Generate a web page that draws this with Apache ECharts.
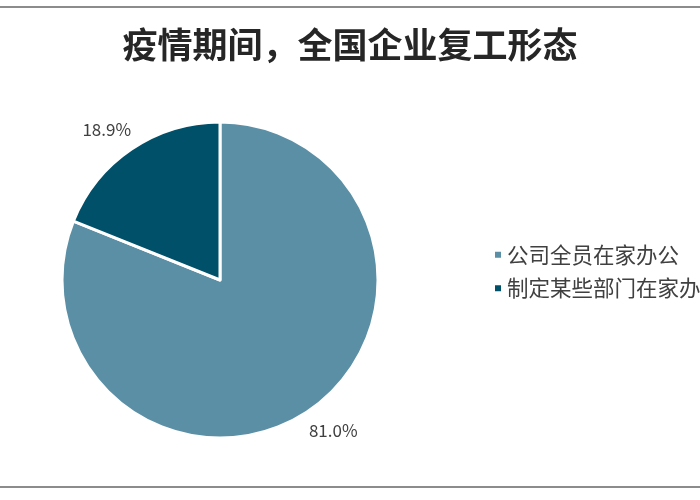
<!DOCTYPE html>
<html>
<head>
<meta charset="utf-8">
<script src="https://cdn.jsdelivr.net/npm/echarts@6/dist/echarts.min.js"></script>
<style>
html,body{margin:0;padding:0;background:#fff;}
#chart{width:700px;height:500px;}
</style>
</head>
<body>
<div id="chart"></div>
<script>
const titleText = '疫情期间，全国企业复工形态';
const categories = ['公司全员在家办公', '制定某些部门在家办公'];
const values = [81.0, 18.9];
const colors = ['#5B8FA6', '#01506A'];

const chart = echarts.init(document.getElementById('chart'));
const font = '"Noto Sans CJK SC", "Microsoft YaHei", sans-serif';
chart.setOption({
  backgroundColor: '#ffffff',
  animation: false,
  title: {
    text: titleText,
    left: 'center',
    top: 22,
    textStyle: { fontFamily: font, fontSize: 35, fontWeight: 'bold', color: '#262626' }
  },
  legend: {
    orient: 'vertical',
    left: 488,
    top: 239,
    itemWidth: 8,
    itemHeight: 8,
    itemGap: 12,
    icon: 'rect',
    textStyle: { fontFamily: font, fontSize: 21.5, color: '#404040' },
    data: categories
  },
  graphic: [
    { type: 'line', shape: { x1: 0, y1: 7, x2: 700, y2: 7 }, style: { stroke: '#8c8c8c', lineWidth: 2 } },
    { type: 'line', shape: { x1: 0, y1: 487, x2: 700, y2: 487 }, style: { stroke: '#8c8c8c', lineWidth: 2 } }
  ],
  series: [{
    type: 'pie',
    center: [220, 280],
    radius: [0, 158],
    startAngle: 90,
    clockwise: true,
    avoidLabelOverlap: false,
    itemStyle: { borderColor: '#ffffff', borderWidth: 3 },
    label: {
      show: true,
      position: 'outside',
      fontFamily: font,
      fontSize: 17,
      color: '#404040',
      formatter: p => p.value.toFixed(1) + '%'
    },
    labelLine: { show: false, length: 24, length2: -18 },
    data: categories.map((c, i) => ({ name: c, value: values[i], itemStyle: { color: colors[i] } }))
  }]
});
</script>
</body>
</html>
